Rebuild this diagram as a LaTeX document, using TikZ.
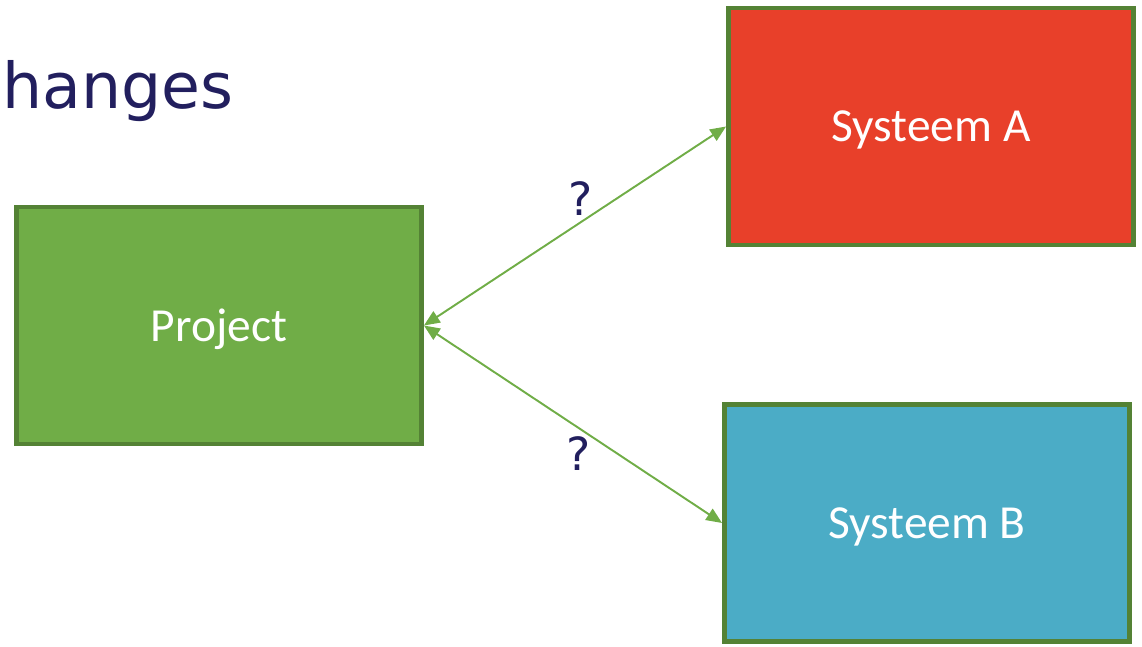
\documentclass[tikz,border=0pt]{standalone}
\usepackage{fontspec}
\setmainfont{Carlito}
\newfontfamily\titlefont{DejaVu Sans}
\usepackage{tikz}
\usetikzlibrary{positioning, calc, arrows.meta}
\definecolor{navy}{HTML}{221F5E}
\definecolor{leaf}{HTML}{70AD47}
\definecolor{leafdark}{HTML}{548235}
\definecolor{tomato}{HTML}{E8402A}
\definecolor{sky}{HTML}{4BACC6}
\tikzstyle{sys} = [rectangle, draw=leafdark, line width=2.8pt, minimum width=8.1cm, minimum height=4.74cm, text depth=0pt, text=white, font=\fontsize{27}{32}\selectfont]
\tikzstyle{line} = [draw=leaf, line width=1.1pt, {Triangle[length=9pt,width=7.5pt]}-{Triangle[length=9pt,width=7.5pt]}]
\tikzstyle{ask} = [text=navy, font=\titlefont\fontsize{26}{30}\selectfont]

\begin{document}
\begin{tikzpicture}[x=0.02cm, y=-0.02cm]
    \useasboundingbox (0,0) rectangle (1142,646);
    %%% Title:
    \node[anchor=base east, inner sep=0pt, text=navy, font=\titlefont\fontsize{36}{42}\selectfont] (title) at (234,108) {changes};
    %%% Boxes:
    \node[sys, fill=leaf] (project) at (219,325.5) {Project};
    \node[sys, fill=tomato] (sysA) at (931,126.5) {Systeem A};
    \node[sys, fill=sky] (sysB) at (927,523) {Systeem B};
    \path [line] (project.east) -- node[ask, above=2pt, pos=0.5, xshift=3pt] (askA) {?} (sysA.west);
    \path [line] (project.east) -- node[ask, below=3pt, pos=0.5, xshift=3pt] (askB) {?} (sysB.west);
  \end{tikzpicture}
\end{document}
